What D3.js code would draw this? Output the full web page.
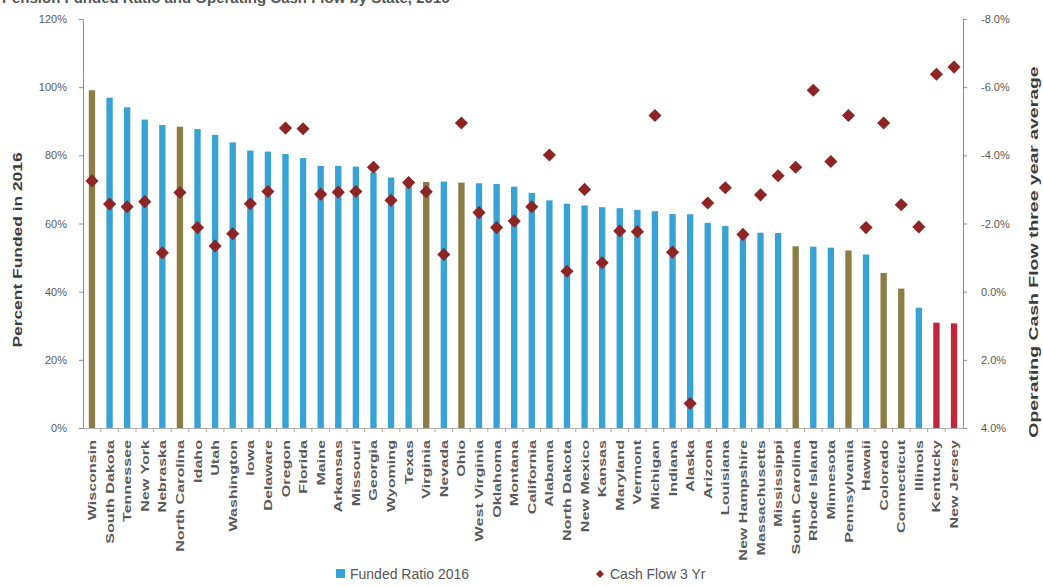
<!DOCTYPE html>
<html>
<head>
<meta charset="utf-8">
<script src="https://cdn.jsdelivr.net/npm/d3@7"></script>
<style>
  html, body { margin: 0; padding: 0; background: #ffffff; }
  svg { display: block; font-family: "Liberation Sans", Arial, sans-serif; }
</style>
</head>
<body>
<svg id="chart" width="1043" height="587"></svg>
<script>
// States ranked by 2016 funded ratio
const states = [
  "Wisconsin", "South Dakota", "Tennessee", "New York", "Nebraska", "North Carolina",
  "Idaho", "Utah", "Washington", "Iowa", "Delaware", "Oregon", "Florida", "Maine",
  "Arkansas", "Missouri", "Georgia", "Wyoming", "Texas", "Virginia", "Nevada", "Ohio",
  "West Virginia", "Oklahoma", "Montana", "California", "Alabama", "North Dakota",
  "New Mexico", "Kansas", "Maryland", "Vermont", "Michigan", "Indiana", "Alaska",
  "Arizona", "Louisiana", "New Hampshire", "Massachusetts", "Mississippi",
  "South Carolina", "Rhode Island", "Minnesota", "Pennsylvania", "Hawaii", "Colorado",
  "Connecticut", "Illinois", "Kentucky", "New Jersey"
];

// Funded ratio 2016, percent
const fundedRatio = [
  99.1, 96.9, 94.1, 90.5, 88.9, 88.4, 87.7, 86.0, 83.8, 81.4, 81.1, 80.4, 79.2, 76.9,
  76.9, 76.7, 75.0, 73.5, 72.8, 72.2, 72.3, 72.0, 71.8, 71.6, 70.8, 69.0, 66.8, 65.8,
  65.3, 64.8, 64.5, 64.0, 63.6, 62.8, 62.7, 60.2, 59.3, 57.8, 57.3, 57.2, 53.3, 53.2,
  52.9, 52.1, 50.9, 45.5, 40.9, 35.3, 30.9, 30.7
];

// Operating cash flow, three year average, percent
const cashFlow3Yr = [
  -3.25, -2.57, -2.49, -2.64, -1.14, -2.91, -1.88, -1.34, -1.70, -2.58, -2.94, -4.80,
  -4.78, -2.86, -2.92, -2.94, -3.65, -2.68, -3.20, -2.93, -1.09, -4.95, -2.32, -1.88,
  -2.07, -2.49, -4.01, -0.60, -3.00, -0.85, -1.78, -1.76, -5.17, -1.16, 3.28, -2.60,
  -3.05, -1.68, -2.84, -3.40, -3.65, -5.91, -3.82, -5.17, -1.88, -4.95, -2.55, -1.90,
  -6.38, -6.59
];

// Bar colour groups
const oliveStates = ["Wisconsin", "North Carolina", "Virginia", "Ohio", "South Carolina",
  "Pennsylvania", "Colorado", "Connecticut"];
const redStates = ["Kentucky", "New Jersey"];

const leftTicks = [0, 20, 40, 60, 80, 100, 120];
const rightTicks = [-8, -6, -4, -2, 0, 2, 4];

const colors = { blue: "#36a2d6", olive: "#8c7d45", red: "#c1273a", diamond: "#8e2424" };

const svg = d3.select("#chart");
const plotLeft = 83, plotRight = 963, plotTop = 19, plotBottom = 428;

const x = d3.scaleBand().domain(states).range([plotLeft, plotRight])
  .paddingInner(0.64).paddingOuter(0.33);
const y = d3.scaleLinear().domain([0, 120]).range([plotBottom, plotTop]);
const y2 = d3.scaleLinear().domain([-8, 4]).range([plotTop, plotBottom]);

const data = states.map((s, i) => ({ state: s, funded: fundedRatio[i], cash: cashFlow3Yr[i] }));

// heading line, running off the top edge
svg.append("text")
  .attr("x", 2).attr("y", 3)
  .attr("font-size", 15).attr("font-weight", "bold").attr("fill", "#555")
  .text("Pension Funded Ratio and Operating Cash Flow by State, 2016");

// bars
svg.append("g").selectAll("rect").data(data).join("rect")
  .attr("x", d => x(d.state))
  .attr("width", x.bandwidth())
  .attr("y", d => y(d.funded))
  .attr("height", d => y(0) - y(d.funded))
  .attr("fill", d => redStates.includes(d.state) ? colors.red
    : oliveStates.includes(d.state) ? colors.olive : colors.blue);

// left axis
const fmtPct = v => v + "%";
const gl = svg.append("g").attr("transform", `translate(${plotLeft},0)`)
  .call(d3.axisLeft(y).tickValues(leftTicks).tickFormat(fmtPct).tickSize(4).tickSizeOuter(0));
gl.select(".domain").attr("stroke", "#8c8c8c");
gl.selectAll(".tick line").attr("stroke", "#8c8c8c");
gl.selectAll(".tick text").attr("font-size", 11).attr("fill", "#595959")
  .attr("font-family", "Liberation Sans, Arial, sans-serif").attr("x", -16);

// right axis
const fmtCf = v => (v < 0 ? "-" : "") + Math.abs(v).toFixed(1) + "%";
const gr = svg.append("g").attr("transform", `translate(${plotRight},0)`)
  .call(d3.axisRight(y2).tickValues(rightTicks).tickFormat(fmtCf).tickSize(4).tickSizeOuter(0));
gr.select(".domain").attr("stroke", "#8c8c8c");
gr.selectAll(".tick line").attr("stroke", "#8c8c8c");
gr.selectAll(".tick text").attr("font-size", 11).attr("fill", "#595959")
  .attr("font-family", "Liberation Sans, Arial, sans-serif").attr("x", 18);

// category axis
const gx = svg.append("g").attr("transform", `translate(0,${plotBottom})`)
  .call(d3.axisBottom(x).tickSize(0).tickFormat(""));
gx.select(".domain").attr("stroke", "#b0b0b0");
svg.append("g").selectAll("line").data(states.slice(0, -1)).join("line")
  .attr("x1", d => x(d) + x.bandwidth() + (x.step() - x.bandwidth()) / 2)
  .attr("x2", d => x(d) + x.bandwidth() + (x.step() - x.bandwidth()) / 2)
  .attr("y1", plotBottom).attr("y2", plotBottom + 4)
  .attr("stroke", "#b9a58a");

svg.append("g").selectAll("text").data(states).join("text")
  .attr("transform", d => `translate(${x(d) + x.bandwidth() / 2},440) rotate(-90) scale(1.4,1)`)
  .attr("text-anchor", "end").attr("dy", "0.35em")
  .attr("font-size", 11.5).attr("font-weight", "bold").attr("fill", "#5a5a5a")
  .text(d => d);

// cash flow diamonds
const diamond = d3.symbol().type(d3.symbolDiamond2).size(110);
svg.append("g").selectAll("path").data(data).join("path")
  .attr("transform", d => `translate(${x(d.state) + x.bandwidth() / 2},${y2(d.cash)})`)
  .attr("d", diamond)
  .attr("fill", colors.diamond);

// axis titles
svg.append("text")
  .attr("transform", `translate(18,250) rotate(-90) scale(1.45,1)`)
  .attr("text-anchor", "middle").attr("dy", "0.35em")
  .attr("font-size", 12).attr("font-weight", "bold").attr("fill", "#3c3c3c")
  .text("Percent Funded in 2016");

svg.append("text")
  .attr("transform", `translate(1034,252) rotate(-90) scale(1.62,1)`)
  .attr("text-anchor", "middle").attr("dy", "0.35em")
  .attr("font-size", 12).attr("font-weight", "bold").attr("fill", "#3c3c3c")
  .text("Operating Cash Flow three year average");

// legend
const lg = svg.append("g").attr("transform", "translate(0,574)");
lg.append("rect").attr("x", 336).attr("y", -5).attr("width", 9).attr("height", 9).attr("fill", colors.blue);
lg.append("text").attr("x", 350).attr("dy", "0.35em").attr("font-size", 14)
  .attr("fill", "#555").text("Funded Ratio 2016");
lg.append("path").attr("transform", "translate(600,0)")
  .attr("d", d3.symbol().type(d3.symbolDiamond2).size(40)).attr("fill", colors.diamond);
lg.append("text").attr("x", 610).attr("dy", "0.35em").attr("font-size", 14)
  .attr("fill", "#555").text("Cash Flow 3 Yr");
</script>
</body>
</html>
